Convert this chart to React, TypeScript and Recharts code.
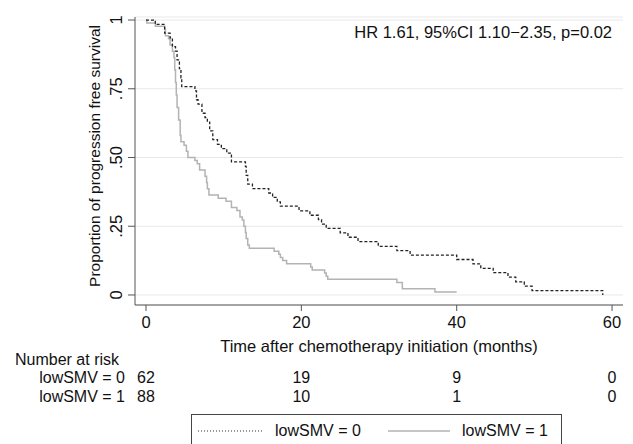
import { LineChart, Line, XAxis, YAxis, CartesianGrid } from "recharts";

// Kaplan-Meier steps: time (months) -> survival after the drop
const lowSmv0Times = [0, 1.2, 2.4, 3.1, 3.4, 3.8, 4.0, 4.3, 4.5, 4.6, 6.3, 6.5, 6.7, 7.2, 7.6, 7.9, 8.2, 8.6, 9.2, 9.7, 10.4, 11.0, 12.8, 12.9, 13.1, 13.7, 15.8, 16.3, 16.9, 17.3, 19.7, 21.1, 22.2, 22.6, 23.2, 25.0, 26.0, 27.3, 29.9, 32.3, 34.0, 40.0, 42.1, 43.1, 44.7, 46.6, 47.6, 48.7, 49.7, 58.8];
const lowSmv0Surv = [1, 0.984, 0.952, 0.935, 0.903, 0.887, 0.855, 0.823, 0.79, 0.758, 0.742, 0.71, 0.694, 0.661, 0.645, 0.629, 0.597, 0.565, 0.548, 0.532, 0.516, 0.484, 0.468, 0.435, 0.403, 0.387, 0.371, 0.355, 0.339, 0.323, 0.306, 0.29, 0.274, 0.258, 0.242, 0.226, 0.21, 0.194, 0.177, 0.161, 0.145, 0.129, 0.113, 0.097, 0.081, 0.065, 0.048, 0.032, 0.016, 0];

const lowSmv1Times = [0, 0.1, 1.2, 2.4, 2.5, 2.9, 3.1, 3.4, 3.6, 3.7, 3.8, 3.9, 4.0, 4.2, 4.4, 4.5, 4.9, 5.2, 5.4, 6.3, 6.6, 6.9, 7.6, 7.8, 7.9, 8.1, 9.3, 10.3, 11.0, 11.7, 12.1, 12.4, 12.6, 12.8, 12.9, 13.1, 13.3, 16.5, 17.1, 17.3, 17.6, 18.1, 21.2, 21.4, 23.0, 23.2, 23.4, 32.3, 33.0, 37.2, 40.0];
const lowSmv1Surv = [1, 0.989, 0.977, 0.966, 0.943, 0.932, 0.909, 0.886, 0.864, 0.818, 0.773, 0.727, 0.682, 0.636, 0.58, 0.557, 0.545, 0.523, 0.5, 0.489, 0.477, 0.455, 0.432, 0.409, 0.386, 0.364, 0.352, 0.341, 0.318, 0.307, 0.284, 0.273, 0.25, 0.227, 0.205, 0.182, 0.17, 0.159, 0.148, 0.136, 0.125, 0.114, 0.102, 0.091, 0.08, 0.068, 0.057, 0.045, 0.023, 0.011, 0.011];

const xTicks = [0, 20, 40, 60];
const yTicks = [0, 0.25, 0.5, 0.75, 1];
const yTickLabels = ["0", ".25", ".50", ".75", "1"];
const riskLowSmv0 = [62, 19, 9, 0];
const riskLowSmv1 = [88, 10, 1, 0];

const FS = 16.5;
const INK = "#111";
const X_DOMAIN: [number, number] = [-1.416, 61.41];

function rows(t: number[], s: number[]) {
  return t.map((x, i) => ({ t: x, s: s[i] }));
}

function YTick({ x, y, payload }: any) {
  const label = yTickLabels[yTicks.indexOf(payload.value)];
  return (
    <text transform={`translate(${x - 4},${y}) rotate(-90)`} textAnchor="middle" fontSize={FS} fill={INK}>
      {label}
    </text>
  );
}

/** at-risk count drawn as a tick of an extra bottom axis so it sits on the time scale */
function RiskTick({ x, y, payload, counts, dy }: any) {
  return (
    <text x={x} y={y + dy} textAnchor="middle" fontSize={16} fill={INK}>
      {counts[xTicks.indexOf(payload.value)]}
    </text>
  );
}

const abs = (left: number, top: number): React.CSSProperties => ({ position: "absolute", left, top, whiteSpace: "nowrap", lineHeight: 1 });

export default function App() {
  const d0 = rows(lowSmv0Times, lowSmv0Surv);
  const d1 = rows(lowSmv1Times, lowSmv1Surv);
  return (
    <div style={{ position: "absolute", left: 0, top: 0, width: 633, height: 444, overflow: "hidden", background: "#fff", fontFamily: "'Liberation Sans', Arial, sans-serif", color: INK }}>
      <LineChart width={633} height={444} margin={{ top: 17, right: 10, bottom: 42, left: 75 }}>
        <CartesianGrid vertical={false} stroke="#e8e8e8" />
        <XAxis
          dataKey="t"
          type="number"
          domain={X_DOMAIN}
          ticks={xTicks}
          allowDataOverflow
          height={50}
          tickSize={6}
          tickMargin={5}
          tick={{ fill: INK, fontSize: FS }}
          stroke="#555"
          label={{ value: "Time after chemotherapy initiation (months)", position: "insideBottom", offset: 3, fill: INK, fontSize: FS }}
        />
        <XAxis xAxisId="r0" dataKey="t" type="number" domain={X_DOMAIN} ticks={xTicks} allowDataOverflow height={28} axisLine={false} tickLine={false} tickSize={0} tickMargin={0} tick={<RiskTick counts={riskLowSmv0} dy={28} />} />
        <XAxis xAxisId="r1" dataKey="t" type="number" domain={X_DOMAIN} ticks={xTicks} allowDataOverflow height={19} axisLine={false} tickLine={false} tickSize={0} tickMargin={0} tick={<RiskTick counts={riskLowSmv1} dy={19} />} />
        <YAxis type="number" domain={[-0.0364, 1.011]} ticks={yTicks} allowDataOverflow width={60} tickSize={7} stroke="#555" tick={<YTick />} />
        <Line data={d1} dataKey="s" type="stepAfter" stroke="#b3b3b3" strokeWidth={1.5} dot={false} isAnimationActive={false} />
        <Line data={d0} dataKey="s" type="stepAfter" stroke="#222" strokeWidth={1.3} strokeDasharray="3 2" dot={false} isAnimationActive={false} />
      </LineChart>

      <div style={{ ...abs(95, 156), fontSize: 15.5, transform: "translate(-50%,-50%) rotate(-90deg)" }}>Proportion of progression free survival</div>
      <div style={{ ...abs(0, 24), width: 612, textAlign: "right", fontSize: FS }}>HR 1.61, 95%CI 1.10−2.35, p=0.02</div>

      <div style={{ ...abs(15, 352), fontSize: 16 }}>Number at risk</div>
      <div style={{ ...abs(0, 370), width: 125, textAlign: "right", fontSize: 16 }}>lowSMV = 0</div>
      <div style={{ ...abs(0, 389), width: 125, textAlign: "right", fontSize: 16 }}>lowSMV = 1</div>

      <div style={{ position: "absolute", left: 191, top: 414, width: 371, height: 40, border: "1px solid #444", boxSizing: "border-box" }}>
        <svg style={{ position: "absolute", left: 6, top: 15 }} width={64} height={2}>
          <line x1={0} y1={1} x2={64} y2={1} stroke="#333" strokeWidth={1} strokeDasharray="1 2" />
        </svg>
        <div style={{ ...abs(83, 8), fontSize: 16 }}>lowSMV = 0</div>
        <svg style={{ position: "absolute", left: 196, top: 15 }} width={62} height={2}>
          <line x1={0} y1={1} x2={62} y2={1} stroke="#b3b3b3" strokeWidth={1.5} />
        </svg>
        <div style={{ ...abs(270, 8), fontSize: 16 }}>lowSMV = 1</div>
      </div>
    </div>
  );
}
